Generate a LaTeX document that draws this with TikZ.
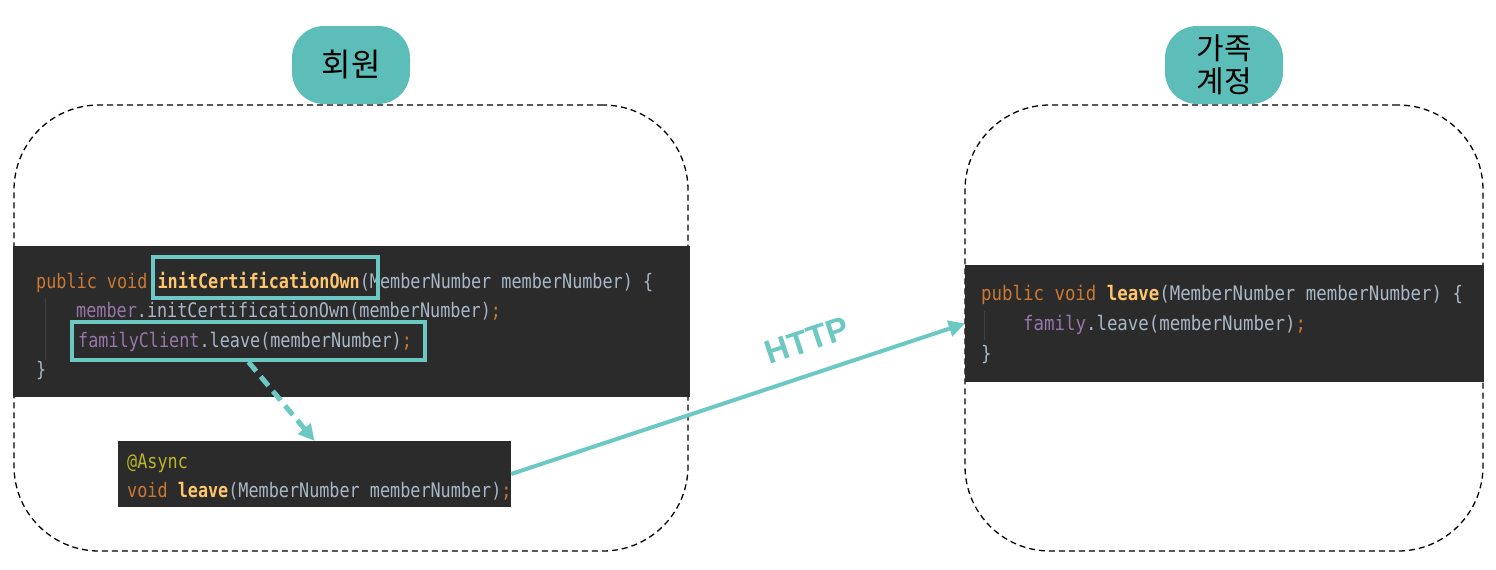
\documentclass[tikz,border=0pt]{standalone}
\usepackage{fontspec}
\setmainfont{Liberation Sans}
\newfontfamily\krfont{Noto Sans CJK KR}
\newfontfamily\codefont[FakeStretch=0.84]{DejaVu Sans Mono}
\newfontfamily\codefontR[FakeStretch=0.87]{DejaVu Sans Mono}
\usetikzlibrary{arrows.meta}

\definecolor{pillFill}{HTML}{5DBDB8}
\definecolor{accentTeal}{HTML}{6CC8C3}
\definecolor{codeBg}{HTML}{2B2B2B}
\definecolor{codeTxt}{HTML}{A9B7C6}
\definecolor{codeKw}{HTML}{CC7832}
\definecolor{codeFn}{HTML}{FFC66D}
\definecolor{codeFld}{HTML}{9876AA}
\definecolor{codeAnn}{HTML}{BBB529}
\definecolor{guideCol}{HTML}{3E4143}

% syntax colouring helpers
\newcommand{\kwd}[1]{\textcolor{codeKw}{#1}}
\newcommand{\fnc}[1]{\textcolor{codeFn}{\bfseries #1}}
\newcommand{\fld}[1]{\textcolor{codeFld}{#1}}
\newcommand{\anno}[1]{\textcolor{codeAnn}{#1}}

\tikzset{
  group/.style={draw=black, dashed, dash pattern=on 6pt off 4pt, line width=1.3pt,
    rounded corners=85pt, inner sep=0pt},
  pill/.style={fill=pillFill, rounded corners=32pt, minimum width=118pt,
    minimum height=78pt, inner sep=0pt, align=center},
  codeblock/.style={fill=codeBg, inner sep=0pt},
  codeline/.style={anchor=base west, inner sep=0pt, text=codeTxt,
    font=\codefont\fontsize{20}{22}\selectfont},
  codelineR/.style={codeline, font=\codefontR\fontsize{20}{22}\selectfont},
  mark box/.style={draw=accentTeal, line width=4pt, inner sep=0pt},
  flow/.style={draw=accentTeal, line width=4pt,
    -{Triangle[length=16pt,width=16pt]}},
}

\begin{document}
\begin{tikzpicture}[x=1pt,y=-1pt]
\useasboundingbox (0,0) rectangle (1496,570);

% service boundaries
\node[group, minimum width=674pt, minimum height=446pt] (memberGrp) at (351,328) {};
\node[group, minimum width=518pt, minimum height=446pt] (familyGrp) at (1224,328) {};

% service names
\node[pill, font=\krfont\fontsize{32}{34}\selectfont] (memberPill) at (351,65) {회원};
\node[pill, font=\krfont\fontsize{30}{33}\selectfont] (familyPill) at (1224,65) {가족\\계정};

% member service code
\node[codeblock, minimum width=677pt, minimum height=151pt] (codeL) at (351.5,321.5) {};
\draw[guideCol, line width=0.8pt] (45,298) -- (45,360);
\node[codeline] (l1) at (36,288)
  {\kwd{public void} \fnc{initCertificationOwn}(MemberNumber memberNumber) \{};
\node[codeline] (l2) at (76,317)
  {\fld{member}.initCertificationOwn(memberNumber)\kwd{;}};
\node[codeline] (l3) at (78,347)
  {\fld{familyClient}.leave(memberNumber)\kwd{;}};
\node[codeline] (l4) at (36,376) {\}};

\node[mark box, minimum width=225pt, minimum height=41pt] (hl1) at (265.5,277.5) {};
\node[mark box, minimum width=353pt, minimum height=38pt] (hl2) at (248.5,341) {};

% async client interface
\node[codeblock, minimum width=393pt, minimum height=66pt] (codeAsync) at (314.5,474) {};
\node[codeline] (a1) at (127,468) {\anno{@Async}};
\node[codeline] (a2) at (127,497)
  {\kwd{void} \fnc{leave}(MemberNumber memberNumber)\kwd{;}};

% family service code
\node[codeblock, minimum width=519pt, minimum height=117pt] (codeR) at (1224.5,323.5) {};
\draw[guideCol, line width=0.8pt] (984,311) -- (984,340);
\node[codelineR] (r1) at (981,300)
  {\kwd{public void} \fnc{leave}(MemberNumber memberNumber) \{};
\node[codelineR] (r2) at (1023,330)
  {\fld{family}.leave(memberNumber)\kwd{;}};
\node[codelineR] (r3) at (981,360) {\}};

% calls
\draw[flow, line width=5pt, dash pattern=on 12pt off 7pt] (hl2.south) -- (codeAsync.north);
\draw[flow] (codeAsync.east) -- (codeR.west)
  node[pos=0.675, sloped, above=17pt, text=accentTeal,
       font=\bfseries\fontsize{33}{35}\selectfont] (httpLbl) {HTTP};

\end{tikzpicture}
\end{document}
